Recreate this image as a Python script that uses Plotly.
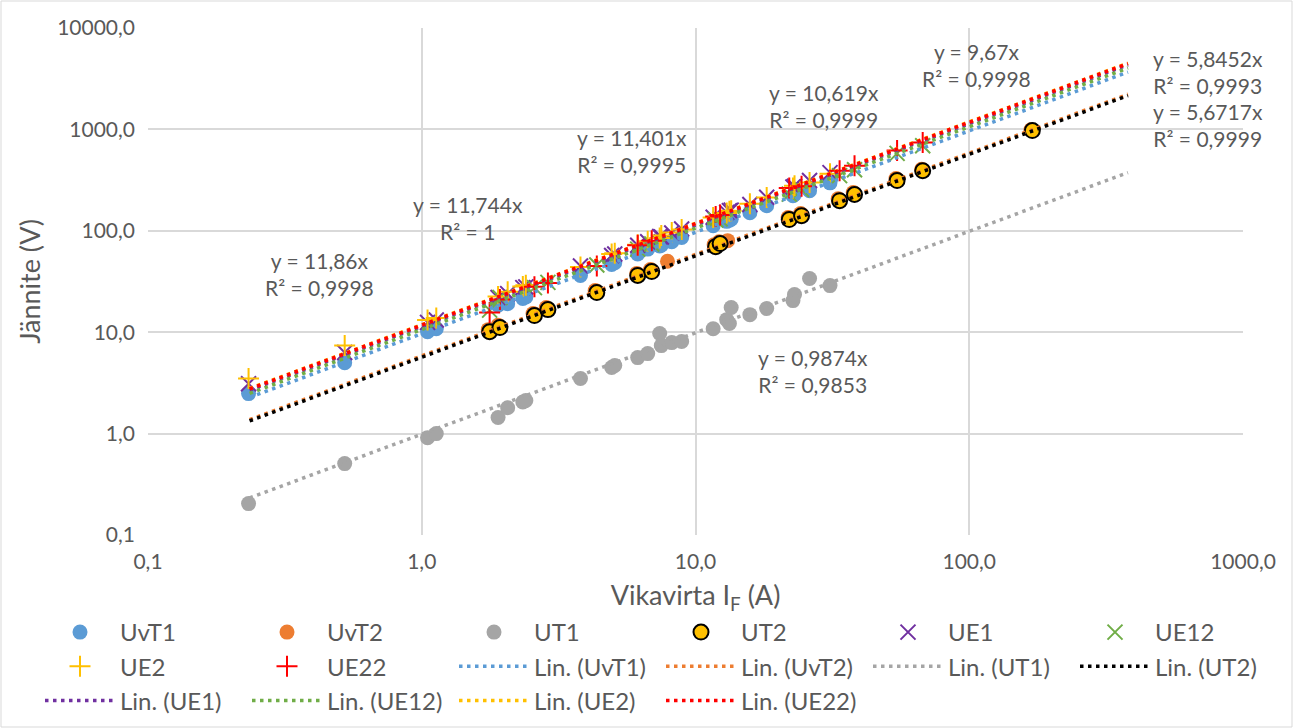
import math
import plotly.graph_objects as go

# ---------------- data ----------------
x_T1 = [0.233, 0.523, 1.05, 1.13, 1.90, 2.06, 2.34, 2.40, 3.80, 4.94, 5.07, 6.15, 6.69,
        7.40, 7.50, 8.19, 8.90, 11.6, 13.0, 13.3, 13.5, 15.8, 18.2, 22.7, 23.0, 26.1, 31.0]
UvT1 = [2.48, 5.0, 10.1, 10.8, 18.5, 19.1, 21.5, 22.3, 36.3, 46.5, 48.5, 59, 66,
        71, 72, 78, 86, 112, 124, 127, 130, 151, 177, 222, 228, 249, 297]
UT1 = [0.204, 0.506, 0.91, 1.0, 1.44, 1.80, 2.05, 2.12, 3.49, 4.48, 4.69, 5.62, 6.15,
       9.7, 7.38, 7.9, 8.09, 10.8, 13.3, 12.2, 17.5, 14.9, 17.1, 20.5, 23.5, 33.8, 28.8]
UE1 = [3.1, 6.3, 12.5, 13.2, 22, 24, 27.5, 28, 45, 57, 59, 72, 78,
       88, 87, 95, 104, 136, 152, 158, 160, 182, 214, 270, 275, 313, 375]
UE2 = [3.5, 7.4, 13.2, 13.8, 22.5, 25, 28.2, 29, 44, 59, 60, 73, 79,
       85, 90, 96, 103, 135, 150, 156, 158, 185, 213, 265, 278, 300, 365]

x_T2 = [1.77, 1.93, 2.58, 2.89, 4.36, 6.15, 6.92, 11.85, 12.3, 22.0, 24.4, 33.6, 38.1, 54.5, 67.6, 170]
UT2 = [10.1, 11.1, 14.6, 16.7, 24.6, 36.3, 39.6, 69.8, 74.9, 129, 141, 198, 228, 313, 391, 973]
x_vT2 = [1.75, 1.90, 2.55, 2.85, 4.30, 6.10, 6.85, 7.90, 11.7, 12.2, 13.1, 21.8, 24.2, 33.2, 37.7, 54.0, 67.0, 168]
UvT2 = [10.6, 11.7, 15.3, 17.5, 25.8, 38, 41.5, 50, 73, 78, 80, 135, 148, 207, 238, 327, 405, 990]
x_E2 = [1.77, 1.93, 2.58, 2.89, 4.36, 6.15, 6.92, 11.85, 12.3, 22.0, 24.4, 33.6, 38.1, 54.5, 67.6]
UE12 = [16.5, 22, 27.5, 31, 46, 66, 74, 128, 131, 230, 255, 350, 400, 580, 690]
UE22 = [15.6, 21, 28, 30.5, 45, 72, 80, 138, 143, 265, 275, 391, 438, 620, 741]

series_names = ["UvT1", "UvT2", "UT1", "UT2", "UE1", "UE12", "UE2", "UE22"]
series_x = [x_T1, x_vT2, x_T1, x_T2, x_T1, x_E2, x_T1, x_E2]
series_y = [UvT1, UvT2, UT1, UT2, UE1, UE12, UE2, UE22]

# trendline slopes (y = k x) and shown range
trend_k = {"UvT1": 9.67, "UvT2": 5.8452, "UT1": 0.9874, "UT2": 5.6717,
           "UE1": 11.401, "UE12": 10.619, "UE2": 11.86, "UE22": 11.744}
trend_x = [0.235, 380]

eq_texts = ["y = 11,86x<br>R² = 0,9998", "y = 11,744x<br>R² = 1", "y = 11,401x<br>R² = 0,9995",
            "y = 10,619x<br>R² = 0,9999", "y = 9,67x<br>R² = 0,9998", "y = 5,8452x<br>R² = 0,9993",
            "y = 5,6717x<br>R² = 0,9999", "y = 0,9874x<br>R² = 0,9853"]
eq_pos = [(0.424, 37.8), (1.47, 135), (5.85, 618), (29.4, 1718), (106, 4300), (743, 3715),
          (743, 1115), (26.8, 4.18)]

x_ticks = [0.1, 1, 10, 100, 1000]
x_ticktext = ["0,1", "1,0", "10,0", "100,0", "1000,0"]
y_ticks = [0.1, 1, 10, 100, 1000, 10000]
y_ticktext = ["0,1", "1,0", "10,0", "100,0", "1000,0", "10000,0"]

# ---------------- styles ----------------
colors = {"UvT1": "#5B9BD5", "UvT2": "#ED7D31", "UT1": "#A5A5A5", "UT2": "#FFC000",
          "UE1": "#7030A0", "UE12": "#70AD47", "UE2": "#FFC000", "UE22": "#FF0000"}
trend_colors = dict(colors)
trend_colors["UT2"] = "#000000"
symbols = {"UvT1": "circle", "UvT2": "circle", "UT1": "circle", "UT2": "circle",
           "UE1": "x-thin", "UE12": "x-thin", "UE2": "cross-thin", "UE22": "cross-thin"}

FONT = "Lato, Carlito, Calibri, sans-serif"
TXT = "#595959"

fig = go.Figure()
for name, xs, ys in zip(series_names, series_x, series_y):
    sym = symbols[name]
    if sym == "circle":
        if name == "UT2":
            marker = dict(symbol="circle", size=15, color=colors[name], line=dict(color="black", width=2))
        else:
            marker = dict(symbol="circle", size=15, color=colors[name], line=dict(width=0))
    else:
        marker = dict(symbol=sym, size=15, color=colors[name], line=dict(color=colors[name], width=2))
    fig.add_trace(go.Scatter(x=xs, y=ys, mode="markers", name=name, marker=marker))

for name in series_names:
    k = trend_k[name]
    fig.add_trace(go.Scatter(x=trend_x, y=[k * v for v in trend_x], mode="lines",
                             name=f"Lin. ({name})",
                             line=dict(color=trend_colors[name], width=3.5, dash="3.5px,4.5px")))

for txt, (ax, ay) in zip(eq_texts, eq_pos):
    fig.add_annotation(x=math.log10(ax), y=math.log10(ay), text=txt,
                       showarrow=False, font=dict(family=FONT, size=21, color=TXT),
                       align="center")

W, H = 1293, 728
L, R, T, B = 148, 50, 28, 193
pw, ph = W - L - R, H - T - B
fig.add_shape(type="rect", xref="paper", yref="paper",
              x0=-(L - 1) / pw, x1=1 + (R - 1) / pw, y0=-(B - 1) / ph, y1=1 + (T - 1) / ph,
              line=dict(color="#d9d9d9", width=1), layer="below")

fig.update_layout(
    width=W, height=H,
    margin=dict(l=L, r=R, t=T, b=B, autoexpand=False),
    paper_bgcolor="white", plot_bgcolor="white",
    font=dict(family=FONT, color=TXT, size=21),
    showlegend=True,
    legend=dict(orientation="h", xref="paper", yref="paper", x=-(L - 40) / pw, y=-(610 - 535) / ph,
                xanchor="left", yanchor="top", entrywidth=122, entrywidthmode="pixels",
                itemwidth=70, font=dict(family=FONT, size=24, color=TXT), traceorder="normal",
                tracegroupgap=0),
    xaxis=dict(type="log", range=[-1, 3], tickvals=x_ticks, ticktext=x_ticktext,
               showgrid=True, gridcolor="#d9d9d9", gridwidth=1.5, zeroline=False,
               showline=False, ticks="", tickfont=dict(size=21, color=TXT), ticklabelstandoff=12,
               title=dict(text="Vikavirta I<sub>F</sub> (A)", font=dict(size=27, color=TXT), standoff=14)),
    yaxis=dict(type="log", range=[-1, 4], tickvals=y_ticks, ticktext=y_ticktext,
               showgrid=True, gridcolor="#d9d9d9", gridwidth=1.5, zeroline=False,
               showline=False, ticks="", tickfont=dict(size=21, color=TXT), ticklabelstandoff=12,
               title=dict(text="Jännite (V)", font=dict(size=27, color=TXT), standoff=8)),
)

fig.write_html("out.html")
